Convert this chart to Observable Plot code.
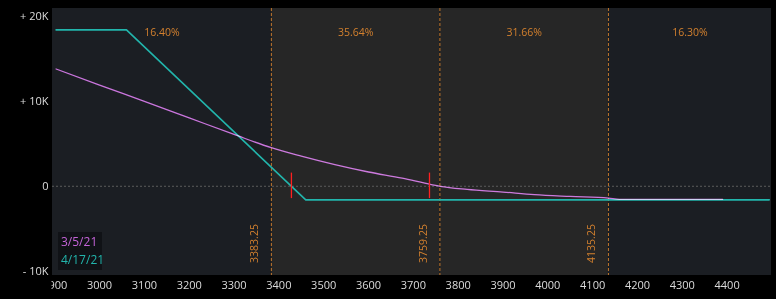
<!DOCTYPE html>
<html>
<head>
<meta charset="utf-8">
<script src="https://cdn.jsdelivr.net/npm/d3@7"></script>
<script src="https://cdn.jsdelivr.net/npm/@observablehq/plot@0.6"></script>
<style>
  html, body { margin: 0; padding: 0; background: #000; }
  #wrap { position: relative; width: 776px; height: 299px; overflow: hidden; }
  #legend { position: absolute; left: 58px; top: 232px; width: 44px; height: 38px;
    background: #101216; font-family: "Open Sans", sans-serif; font-size: 12px; line-height: 18px;
    padding-left: 3px; padding-top: 1px; box-sizing: border-box; }
</style>
</head>
<body>
<div id="wrap"></div>
<script>
// ---- data ----
const xDomain = [2895, 4499];
const yDomain = [-10500, 20920];
const xTicks = [2900, 3000, 3100, 3200, 3300, 3400, 3500, 3600, 3700, 3800, 3900, 4000, 4100, 4200, 4300, 4400];
const yTicks = [-10000, 0, 10000, 20000];

const strikeLevels = [3383.25, 3759.25, 4135.25];
const probLabels = ["16.40%", "35.64%", "31.66%", "16.30%"];

// 3/5/21 P/L curve
const priceA = [2903, 3000, 3100, 3200, 3300, 3383, 3450, 3525, 3600, 3675, 3740, 3760, 3820, 3900, 3970, 4050, 4135, 4160, 4390];
const pnlA   = [13800, 11900, 10000, 8050, 6100, 4540, 3550, 2550, 1680, 950, 200, 0, -360, -680, -990, -1200, -1390, -1540, -1540];

// 4/17/21 P/L (expiration)
const priceB = [2903, 3060, 3460, 4494];
const pnlB   = [18400, 18400, -1600, -1600];

const breakevens = [3428, 3736];
const seriesNames = ["3/5/21", "4/17/21"];

// ---- styles ----
const colA = "#c463d8", colB = "#22b5ac", orange = "#d3802e";
const outerShade = "#1b1e23", innerShade = "#262626";

const edges = [xDomain[0], ...strikeLevels, xDomain[1]];
const regions = probLabels.map((label, i) => ({x1: edges[i], x2: edges[i + 1], label, inner: i === 1 || i === 2}));
const curveA = priceA.map((x, i) => ({x, y: pnlA[i]}));
const curveB = priceB.map((x, i) => ({x, y: pnlB[i]}));

const fmtY = d => d > 0 ? "+ " + d / 1000 + "K" : d < 0 ? "- " + (-d / 1000) + "K" : "0";

const chart = Plot.plot({
  width: 776, height: 299,
  marginTop: 8, marginBottom: 24, marginLeft: 52, marginRight: 5,
  style: {background: "#000", fontFamily: "'Open Sans', sans-serif"},
  x: {domain: xDomain},
  y: {domain: yDomain},
  marks: [
    Plot.rect(regions, {x1: "x1", x2: "x2", y1: () => yDomain[0], y2: () => yDomain[1],
      fill: d => d.inner ? innerShade : outerShade}),
    Plot.ruleY([0], {stroke: "#5c5c5c", strokeDasharray: "2,2"}),
    Plot.ruleX(strikeLevels, {stroke: orange, strokeDasharray: "3,2", strokeOpacity: 0.9}),
    Plot.text(regions, {x: d => (d.x1 + d.x2) / 2, text: "label", frameAnchor: "top", dy: 20,
      fill: orange, fontSize: 10.5}),
    Plot.text(strikeLevels, {x: d => d, text: d => d.toFixed(2), rotate: -90, frameAnchor: "bottom",
      dy: -32, dx: -13, fill: orange, fontSize: 10.5}),
    Plot.line(curveB, {x: "x", y: "y", stroke: colB, strokeWidth: 1.6}),
    Plot.line(curveA, {x: "x", y: "y", stroke: colA, strokeWidth: 1.3, curve: "monotone-x", mixBlendMode: "screen"}),
    Plot.ruleX(breakevens, {y1: () => -1450, y2: () => 1550, stroke: "#ff2020", strokeWidth: 1.3}),
    Plot.axisX({ticks: xTicks, tickSize: 0, tickPadding: 6, tickFormat: d => String(d), fill: "#dcdcdc", fontSize: 11, label: null}),
    Plot.axisY({ticks: yTicks, tickSize: 0, tickPadding: 4, tickFormat: fmtY, fill: "#dcdcdc", fontSize: 11, label: null})
  ]
});

// clip x tick labels at the left edge, as in the reference
const svg = d3.select(chart);
const defs = svg.insert("defs", ":first-child");
defs.append("clipPath").attr("id", "xlabclip").append("rect")
  .attr("x", 51).attr("y", 0).attr("width", 776).attr("height", 299);
svg.selectAll("g[aria-label='x-axis tick label']").attr("clip-path", "url(#xlabclip)");

const wrap = document.getElementById("wrap");
wrap.appendChild(chart);
const legend = document.createElement("div");
legend.id = "legend";
legend.innerHTML = `<div style="color:${colA}">${seriesNames[0]}</div><div style="color:${colB}">${seriesNames[1]}</div>`;
wrap.appendChild(legend);
</script>
</body>
</html>
